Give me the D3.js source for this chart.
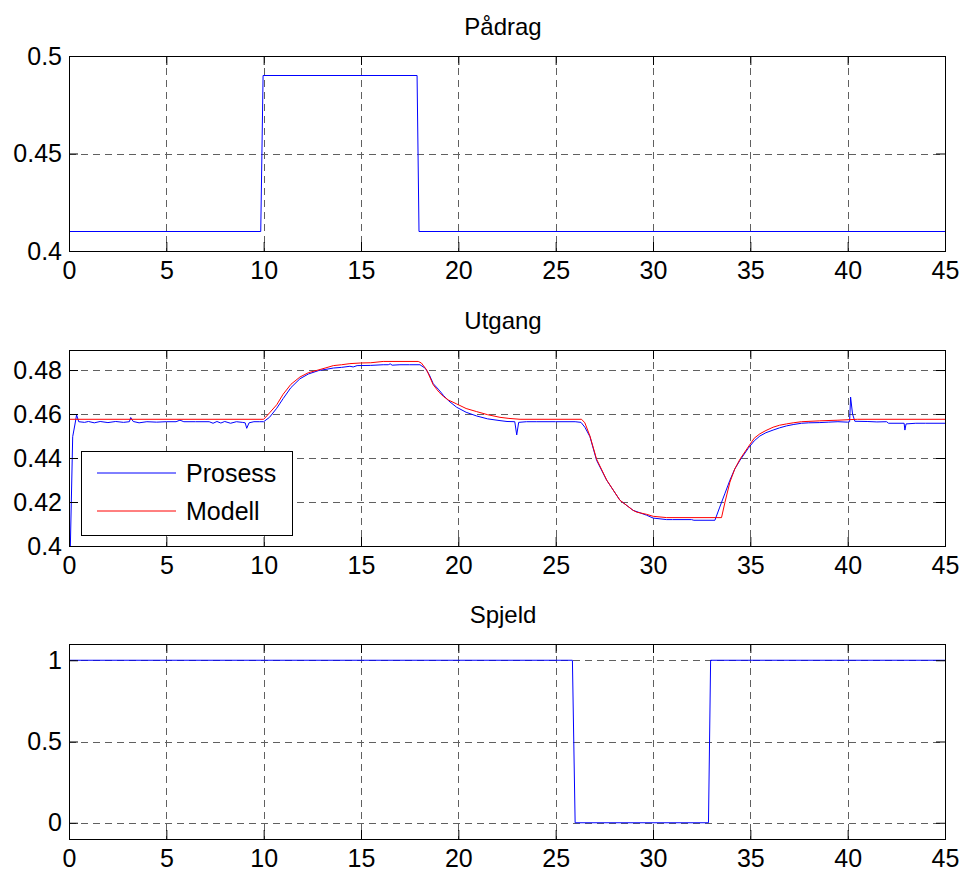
<!DOCTYPE html>
<html>
<head>
<meta charset="utf-8">
<script src="https://cdn.jsdelivr.net/npm/d3@7/dist/d3.min.js"></script>
<style>
  html, body { margin: 0; padding: 0; background: #fff; }
  svg { display: block; }
  text { font-family: "Liberation Sans", Arial, sans-serif; fill: #000; }
</style>
</head>
<body>
<svg id="chart" width="963" height="873"></svg>
<script>
// ---------------- DATA ----------------
const titles = ["Pådrag", "Utgang", "Spjeld"];
const xTicks = [0, 5, 10, 15, 20, 25, 30, 35, 40, 45];
const yTicksPadrag = [0.4, 0.45, 0.5];
const yTicksUtgang = [0.4, 0.42, 0.44, 0.46, 0.48];
const yTicksSpjeld = [0, 0.5, 1];
const legendLabels = ["Prosess", "Modell"];

const padragT = [0, 9.85, 9.97, 17.88, 17.98, 45];
const padragV = [0.41, 0.41, 0.49, 0.49, 0.41, 0.41];

const spjeldT = [0, 25.86, 26.0, 32.85, 32.96, 45];
const spjeldV = [1, 1, 0, 0, 1, 1];

const prosessT = [0, 0.07, 0.19, 0.3, 0.39, 0.5, 0.8, 1.0, 1.3, 1.6, 2.0, 2.4, 2.8, 3.1, 3.17, 3.3, 3.6, 4.0, 4.5, 5.0, 5.5, 5.7, 5.9, 6.5, 7.2, 7.4, 7.6, 7.8, 8.0, 8.3, 8.6, 8.9, 9.05, 9.13, 9.25, 9.5, 9.8,
  10.0, 10.3, 10.67, 11.0, 11.4, 11.86, 12.3, 12.84, 13.2, 13.58, 14.0, 14.43, 14.6, 14.8, 15.5, 16.14, 16.4, 16.5, 16.6, 17.0, 17.5, 18.03,
  18.3, 18.5, 18.71, 19.0, 19.23, 19.5, 19.91, 20.4, 20.94, 21.5, 22.14, 22.5, 22.9, 23.0, 23.1, 23.5, 24.0, 25.0, 26.0,
  26.3, 26.5, 26.76, 27.1, 27.62, 28.3, 28.98, 29.67, 30.01, 30.7, 31.0, 31.98, 32.1, 33.18,
  33.43, 33.7, 33.95, 34.2, 34.47, 34.89, 35.2, 35.49, 35.8, 36.17, 36.5, 36.86, 37.2, 37.63, 38.0, 38.57, 39.0, 39.5, 40.0,
  40.1, 40.15, 40.25, 40.37, 41.0, 41.5, 42.0, 42.1, 42.9, 42.94, 43.0, 43.5, 44.0, 45];
const prosessV = [0.4, 0.4, 0.4497, 0.455, 0.4596, 0.4565, 0.4562, 0.4566, 0.4560, 0.4566, 0.4561, 0.4566, 0.4562, 0.4565, 0.4584, 0.4566, 0.4560, 0.4565, 0.4563, 0.4565, 0.4565, 0.4572, 0.4565, 0.4565, 0.4565, 0.4558, 0.4566, 0.4559, 0.4566, 0.4558, 0.4565, 0.4562, 0.4560, 0.4535, 0.4560, 0.4565, 0.4565,
  0.4565, 0.4585, 0.4626, 0.4670, 0.4720, 0.4760, 0.4782, 0.4798, 0.4803, 0.4809, 0.4812, 0.4817, 0.4814, 0.4820, 0.4821, 0.4824, 0.4824, 0.4828, 0.4822, 0.4824, 0.4824, 0.4824,
  0.4808, 0.4780, 0.4738, 0.4710, 0.4685, 0.4660, 0.4631, 0.4608, 0.4591, 0.4578, 0.4570, 0.4566, 0.4565, 0.4505, 0.4562, 0.4565, 0.4565, 0.4565, 0.4565,
  0.4562, 0.4540, 0.4497, 0.4390, 0.4299, 0.4208, 0.4162, 0.4140, 0.4127, 0.4120, 0.4120, 0.4120, 0.4117, 0.4117,
  0.4177, 0.4240, 0.4299, 0.4350, 0.4390, 0.4444, 0.4478, 0.4500, 0.4515, 0.4527, 0.4537, 0.4546, 0.4552, 0.4558, 0.4560, 0.4561, 0.4563, 0.4565, 0.4563,
  0.4565, 0.4677, 0.4600, 0.4567, 0.4566, 0.4564, 0.4565, 0.4558, 0.4558, 0.4527, 0.4555, 0.4558, 0.4558, 0.4558];

const modellT = [0, 10.0, 10.3, 10.67, 11.0, 11.4, 11.86, 12.3, 12.84, 13.2, 13.58, 14.0, 14.43, 14.98, 15.5, 16.14, 17.94,
  18.1, 18.37, 18.71, 19.0, 19.23, 19.5, 19.91, 20.4, 20.94, 21.5, 22.14, 22.6, 23.17, 26.33,
  26.5, 26.76, 27.1, 27.62, 28.3, 28.98, 29.16, 29.67, 30.01, 30.7, 33.52,
  33.7, 33.95, 34.2, 34.47, 34.89, 35.2, 35.49, 35.8, 36.17, 36.5, 36.86, 37.2, 37.63, 38.57, 39.5, 40.5, 45];
const modellV = [0.4576, 0.4576, 0.4605, 0.4642, 0.4690, 0.4735, 0.4768, 0.4788, 0.4801, 0.4810, 0.4820, 0.4824, 0.4829, 0.4832, 0.4833, 0.4839, 0.4839,
  0.4832, 0.4801, 0.4733, 0.4700, 0.4680, 0.4663, 0.4646, 0.4625, 0.4611, 0.4597, 0.4585, 0.4580, 0.4576, 0.4576,
  0.4560, 0.4500, 0.4395, 0.4300, 0.4208, 0.4162, 0.4154, 0.4144, 0.4135, 0.4129, 0.4129,
  0.4200, 0.4290, 0.4350, 0.4395, 0.4450, 0.4490, 0.4510, 0.4525, 0.4540, 0.4549, 0.4555, 0.4560, 0.4565, 0.4569, 0.4572, 0.4576, 0.4576];

const lineColors = ["#0000ff", "#ff0000"];

// ---------------- LAYOUT ----------------
const svg = d3.select("#chart");
svg.append("rect").attr("width", 963).attr("height", 873).attr("fill", "#fff");

const left = 69, right = 945;
const panels = [
  { title: titles[0], top: 56, bottom: 251, domain: [0.4, 0.5], ticks: yTicksPadrag, fmt: d3.format(".2~f"),
    series: [{ t: padragT, v: padragV, color: lineColors[0] }] },
  { title: titles[1], top: 350, bottom: 546, domain: [0.4, 0.4891], ticks: yTicksUtgang, fmt: d3.format(".2~f"),
    series: [{ t: prosessT, v: prosessV, color: lineColors[0] }, { t: modellT, v: modellV, color: lineColors[1] }], legend: true },
  { title: titles[2], top: 644, bottom: 839, domain: [-0.1, 1.1], ticks: yTicksSpjeld, fmt: d3.format(".1~f"),
    series: [{ t: spjeldT, v: spjeldV, color: lineColors[0] }] }
];

const x = d3.scaleLinear().domain([0, 45]).range([left, right]);
const tickLen = 9;
const gridColor = "#606060";
const dash = "7,5";

panels.forEach(p => {
  const y = d3.scaleLinear().domain(p.domain).range([p.bottom, p.top]);
  const g = svg.append("g");

  // grid
  xTicks.forEach(t => {
    const px = Math.round(x(t)) + 0.5;
    if (t === 0 || t === 45) return;
    g.append("line").attr("x1", px).attr("x2", px).attr("y1", p.top).attr("y2", p.bottom)
      .attr("stroke", gridColor).attr("stroke-width", 1).attr("stroke-dasharray", dash);
  });
  p.ticks.forEach(t => {
    const py = Math.round(y(t)) + 0.5;
    if (Math.abs(y(t) - p.top) < 1 || Math.abs(y(t) - p.bottom) < 1) return;
    g.append("line").attr("x1", left).attr("x2", right).attr("y1", py).attr("y2", py)
      .attr("stroke", gridColor).attr("stroke-width", 1).attr("stroke-dasharray", dash);
  });

  // data lines
  p.series.forEach(s => {
    const pts = s.t.map((t, i) => [t, s.v[i]]);
    g.append("path").datum(pts)
      .attr("d", d3.line().x(d => x(d[0])).y(d => y(d[1])))
      .attr("fill", "none").attr("stroke", s.color).attr("stroke-width", 1);
  });

  // axes via d3
  const xAxisB = d3.axisBottom(x).tickValues(xTicks).tickSizeInner(-tickLen).tickSizeOuter(0).tickPadding(10).tickFormat(d3.format("d"));
  const xAxisT = d3.axisTop(x).tickValues(xTicks).tickSizeInner(-tickLen).tickSizeOuter(0).tickFormat("");
  const yAxisL = d3.axisLeft(y).tickValues(p.ticks).tickSizeInner(-tickLen).tickSizeOuter(0).tickPadding(7).tickFormat(p.fmt);
  const yAxisR = d3.axisRight(y).tickValues(p.ticks).tickSizeInner(-tickLen).tickSizeOuter(0).tickFormat("");

  const ab = g.append("g").attr("transform", `translate(0,${p.bottom})`).call(xAxisB);
  const at = g.append("g").attr("transform", `translate(0,${p.top})`).call(xAxisT);
  const al = g.append("g").attr("transform", `translate(${left},0)`).call(yAxisL);
  const ar = g.append("g").attr("transform", `translate(${right},0)`).call(yAxisR);
  [ab, at, al, ar].forEach(a => {
    a.select(".domain").remove();
    a.selectAll(".tick line").attr("stroke", "#000");
    a.selectAll("text").attr("font-size", 25).attr("font-family", "Liberation Sans, Arial, sans-serif").attr("fill", "#000");
  });
  ab.selectAll("text").attr("dy", "0.71em");

  // box
  g.append("rect").attr("x", left + 0.5).attr("y", p.top + 0.5)
    .attr("width", right - left).attr("height", p.bottom - p.top)
    .attr("fill", "none").attr("stroke", "#000").attr("stroke-width", 1);

  // title
  svg.append("text").attr("x", (left + right) / 2 - 4).attr("y", p.top - 21)
    .attr("text-anchor", "middle").attr("font-size", 24).text(p.title);

  // legend
  if (p.legend) {
    const lg = svg.append("g");
    lg.append("rect").attr("x", 81.5).attr("y", 451.5).attr("width", 211).attr("height", 84)
      .attr("fill", "#fff").attr("stroke", "#000").attr("stroke-width", 1);
    const rows = [473, 511];
    p.series.forEach((s, i) => {
      lg.append("line").attr("x1", 97).attr("x2", 176).attr("y1", rows[i]).attr("y2", rows[i])
        .style("stroke", s.color).attr("stroke-width", 1);
      lg.append("text").attr("x", 186).attr("y", rows[i]).attr("dy", "0.36em")
        .attr("font-size", 25).text(legendLabels[i]);
    });
  }
});
</script>
</body>
</html>
